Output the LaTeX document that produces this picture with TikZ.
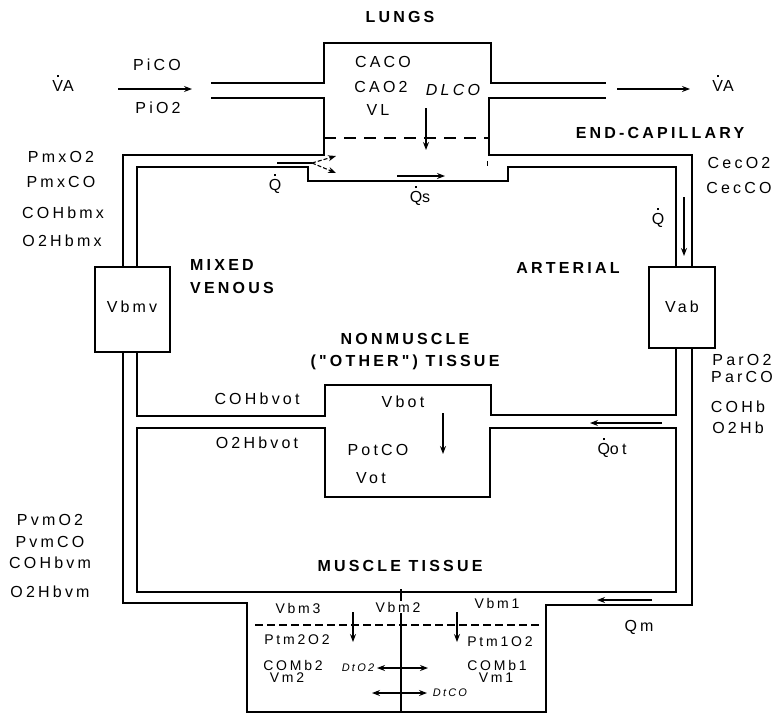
\documentclass[tikz,border=0pt]{standalone}
\usepackage{fontspec}
\setmainfont{Liberation Sans}
\newfontfamily\lsf{Liberation Sans}[LetterSpace=20]
\usetikzlibrary{arrows.meta}
\newcommand\dq[1]{\ooalign{#1\cr\hidewidth\raisebox{0.9em}{\rule{2pt}{2pt}}\hidewidth\cr}}
\begin{document}
\begin{tikzpicture}[x=1pt,y=-1pt,
  wall/.style={line width=1.6pt},
  arr/.style={line width=1.1pt,-{Stealth[length=8pt,width=6pt]}},
  darr/.style={line width=1.1pt,{Stealth[length=8pt,width=6pt]}-{Stealth[length=8pt,width=6pt]}},
  lab/.style={inner sep=0pt,font=\lsf\fontsize{16}{16}\selectfont},
  sml/.style={inner sep=0pt,font=\lsf\fontsize{14}{14}\selectfont},
  tiny/.style={inner sep=0pt,font=\lsf\itshape\fontsize{11}{11}\selectfont},
  bl/.style={inner sep=0pt,font=\lsf\bfseries\fontsize{16}{16}\selectfont}]
\useasboundingbox (0,0) rectangle (778,713);
% walls
\draw[wall] (211,83)--(324,83)--(324,43)--(491,43)--(491,83)--(606,83);
\draw[wall] (211,98)--(324,98)--(324,155)--(123,155)--(123,267);
\draw[wall] (95,267) rectangle (170,352);
\draw[wall] (123,352)--(123,603)--(247,603)--(247,712)--(546,712)--(546,605)--(692,605)--(692,348);
\draw[wall] (649,267) rectangle (715,348);
\draw[wall] (692,267)--(692,155)--(489,155)--(489,98)--(606,98);
\draw[wall] (137,267)--(137,167)--(308,167)--(308,181)--(508,181)--(508,167)--(676,167)--(676,267);
\draw[wall] (137,352)--(137,416)--(325,416)--(325,385)--(491,385)--(491,415)--(676,415)--(676,348);
\draw[wall] (325,428)--(325,497)--(490,497)--(490,428)--(676,428)--(676,592)--(137,592)--(137,428)--cycle;
\draw[wall,dash pattern=on 12pt off 8pt] (324,138)--(488,138);
\draw[line width=1.2pt,dash pattern=on 8pt off 4pt] (255,625)--(542,625);
\draw[line width=1.4pt] (401,589)--(401,712);
\draw[line width=1pt] (487,161)--(487,166);
% arrows
\draw[arr] (118,89)--(192,89);
\draw[arr] (617,89)--(690,89);
\draw[arr] (426,108)--(426,150);
\draw[arr] (397,176)--(445,176);
\draw[line width=1.1pt] (277,163)--(312,163);
\draw[line width=1.1pt,dash pattern=on 4pt off 2pt,-{Stealth[length=8pt,width=6pt]}] (312,163)--(336,156);
\draw[line width=1.1pt,dash pattern=on 4pt off 2pt,-{Stealth[length=8pt,width=6pt]}] (312,163)--(336,173);
\draw[arr] (684,197)--(684,256);
\draw[arr] (443,413)--(443,454);
\draw[arr] (662,423)--(590,423);
\draw[arr] (652,600)--(597,600);
\draw[arr] (353,612)--(353,642);
\draw[arr] (457,612)--(457,642);
\draw[darr] (377,668)--(428,668);
\draw[darr] (372,693)--(427,693);
% labels
\node[bl] (lungs) at (400,17) {LUNGS};
\node[lab] (va1) at (63,86) {\dq{V}A};
\node[lab] (pico) at (157,65) {PiCO};
\node[lab] (pio2) at (158,108) {PiO2};
\node[lab] (va2) at (723,86) {\dq{V}A};
\node[lab] (caco) at (383,62) {CACO};
\node[lab] (cao2) at (381,87) {CAO2};
\node[lab] (vl) at (378,110) {VL};
\node[lab,font=\lsf\itshape\fontsize{16}{16}\selectfont] (dlco) at (453,90) {DLCO};
\node[bl] (endcap) at (660,133) {END-CAPILLARY};
\node[lab] (pmxo2) at (61,157) {PmxO2};
\node[lab] (pmxco) at (61,182) {PmxCO};
\node[lab] (cohbmx) at (63,213) {COHbmx};
\node[lab] (o2hbmx) at (62,241) {O2Hbmx};
\node[lab] (q1) at (275,185) {\dq{Q}};
\node[lab] (qs) at (420,197) {\dq{Q}s};
\node[lab] (keco2) at (739,163) {CecO2};
\node[lab] (kecco) at (739,188) {CecCO};
\node[lab] (q2) at (658,219) {\dq{Q}};
\node[bl,anchor=west] (mixed) at (190,265) {MIXED};
\node[bl,anchor=west] (venous) at (190,288) {VENOUS};
\node[bl] (arterial) at (568,268) {ARTERIAL};
\node[lab] (vbmv) at (132,307) {Vbmv};
\node[lab] (vab) at (682,307) {Vab};
\node[bl] (nonm) at (405,339) {NONMUSCLE};
\node[bl] (other) at (405,362) {("OTHER") TISSUE};
\node[lab] (paro2) at (742,360) {ParO2};
\node[lab] (parco) at (742,377) {ParCO};
\node[lab] (cohb) at (738,407) {COHb};
\node[lab] (o2hb) at (738,428) {O2Hb};
\node[lab] (cohbvot) at (257,399) {COHbvot};
\node[lab] (vbot) at (403,402) {Vbot};
\node[lab] (o2hbvot) at (257,443) {O2Hbvot};
\node[lab] (potco) at (378,450) {PotCO};
\node[lab] (vot) at (371,478) {Vot};
\node[lab] (qot) at (612,449) {\dq{Q}ot};
\node[lab] (pvmo2) at (50,520) {PvmO2};
\node[lab] (pvmco) at (50,542) {PvmCO};
\node[lab] (cohbvm) at (50,563) {COHbvm};
\node[lab] (o2hbvm) at (50,592) {O2Hbvm};
\node[bl] (muscle) at (400,566) {MUSCLE TISSUE};
\node[sml] (vbm3) at (298,608) {Vbm3};
\node[sml,fill=white,inner sep=1pt] (vbm2) at (398,607) {Vbm2};
\node[sml] (vbm1) at (497,603) {Vbm1};
\node[lab] (qm) at (639,627) {Qm};
\node[sml] (ptm2) at (297,640) {Ptm2O2};
\node[sml] (comb2) at (293,665) {COMb2};
\node[sml] (vm2) at (287,678) {Vm2};
\node[sml] (ptm1) at (500,642) {Ptm1O2};
\node[sml] (comb1) at (497,665) {COMb1};
\node[sml] (vm1) at (496,678) {Vm1};
\node[tiny] (dto2) at (358,668) {DtO2};
\node[tiny] (dtco) at (450,693) {DtCO};
\end{tikzpicture}
\end{document}
